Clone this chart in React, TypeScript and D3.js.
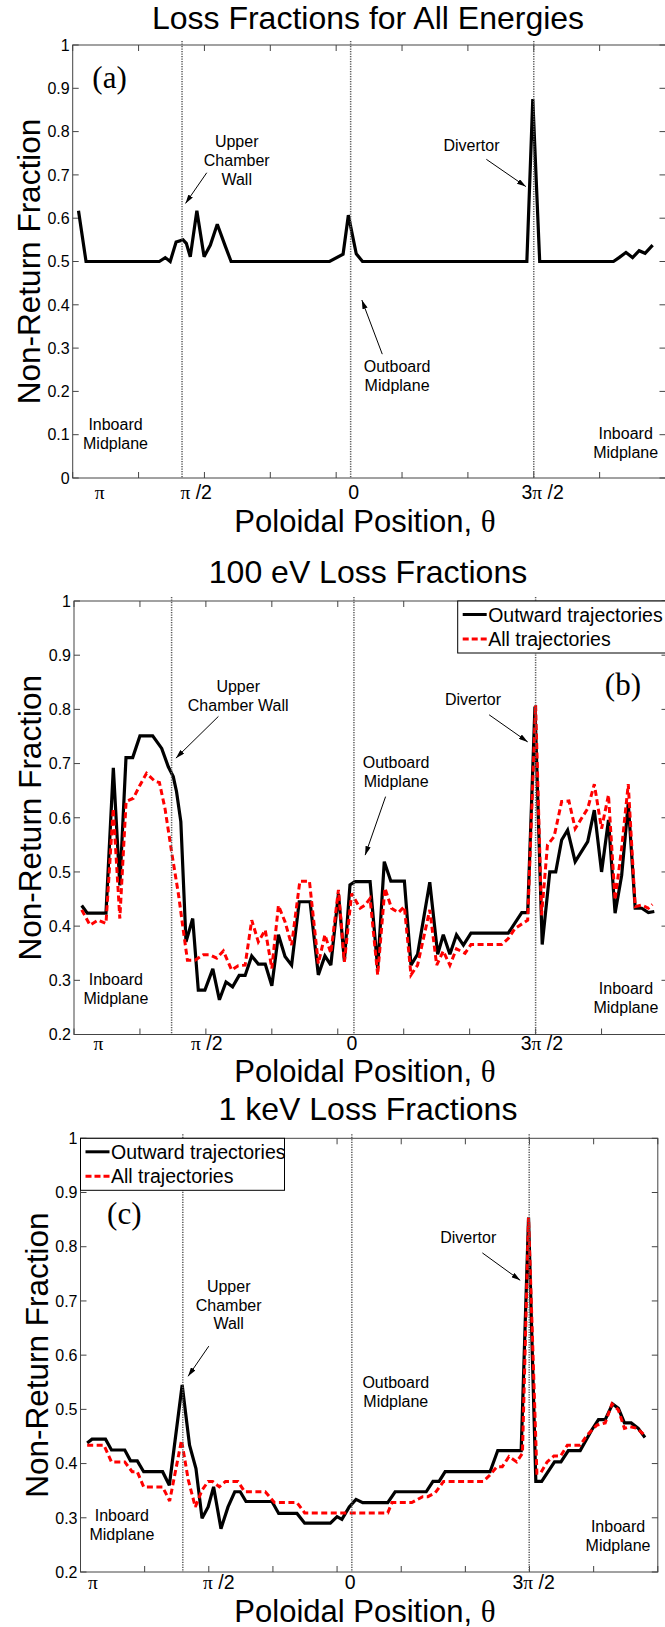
import React from 'react';
import * as d3 from 'd3';

type Pt = [number, number];

const W = 665;
const H = 1627;
const SANS = "'Liberation Sans', Arial, Helvetica, sans-serif";
const SERIF = "'Liberation Serif', 'Times New Roman', serif";

// Position along the wall is expressed in 0..180 units; ticks every 20.
const X_DOMAIN: [number, number] = [0, 180];
const X_TICKS = d3.range(0, 181, 20);
const X_LABELS = ['π', 'π /2', '0', '3π /2'];

// Panel (a): loss fraction summed over all energies
const allEnergies: Pt[] = [
  [1.76, 0.617], [4.05, 0.5], [26.3, 0.5], [28.1, 0.509], [29.6, 0.5], [31.4, 0.545],
  [33.5, 0.55], [34.5, 0.542], [35.7, 0.511], [37.7, 0.617], [39.9, 0.511], [41.8, 0.538],
  [43.9, 0.586], [46.3, 0.536], [48.1, 0.5], [78.0, 0.5], [82.1, 0.517], [83.7, 0.607],
  [86.1, 0.518], [88.0, 0.5], [137.9, 0.5], [139.7, 0.875], [141.8, 0.5], [164.2, 0.5],
  [165.9, 0.509], [168.0, 0.521], [170.0, 0.509], [172.0, 0.525], [173.8, 0.519], [176.1, 0.538],
];

// Panel (b): 100 eV
const outward100eV: Pt[] = [
  [2.33, 0.438], [4.04, 0.424], [9.7, 0.424], [11.93, 0.692], [13.9, 0.475], [15.77, 0.711],
  [17.8, 0.711], [20.0, 0.751], [23.86, 0.751], [26.6, 0.728], [28.6, 0.694], [30.1, 0.676],
  [31.1, 0.648], [32.4, 0.593], [33.97, 0.371], [36.0, 0.414], [37.7, 0.282], [39.7, 0.282],
  [42.1, 0.321], [44.1, 0.264], [46.1, 0.297], [48.1, 0.288], [50.1, 0.309], [51.9, 0.309],
  [53.9, 0.345], [55.9, 0.33], [58.0, 0.33], [60.0, 0.29], [62.0, 0.384], [64.0, 0.344],
  [66.0, 0.328], [68.3, 0.445], [71.6, 0.445], [74.1, 0.31], [76.1, 0.345], [77.9, 0.328],
  [80.2, 0.46], [82.0, 0.336], [83.7, 0.476], [85.2, 0.482], [89.8, 0.482], [92.1, 0.322],
  [94.1, 0.519], [96.1, 0.483], [100.2, 0.483], [102.2, 0.328], [104.2, 0.348], [106.2, 0.42],
  [107.9, 0.481], [110.3, 0.348], [112.0, 0.384], [114.0, 0.348], [116.0, 0.384], [118.1, 0.365],
  [120.4, 0.387], [131.7, 0.387], [135.8, 0.425], [137.6, 0.425], [139.8, 0.805], [142.0, 0.366],
  [144.3, 0.5], [146.1, 0.5], [147.9, 0.559], [149.7, 0.577], [152.0, 0.519], [155.8, 0.556],
  [157.8, 0.614], [160.0, 0.5], [162.1, 0.596], [164.1, 0.424], [166.1, 0.494], [168.1, 0.627],
  [170.2, 0.433], [172.2, 0.433], [174.2, 0.425], [176.0, 0.427],
];

const all100eV: Pt[] = [
  [2.33, 0.43], [4.85, 0.402], [7.3, 0.411], [9.7, 0.405], [11.9, 0.617], [13.9, 0.414],
  [15.8, 0.63], [18.0, 0.636], [20.0, 0.66], [22.0, 0.682], [24.6, 0.667], [25.9, 0.665],
  [27.6, 0.617], [29.6, 0.537], [31.7, 0.458], [33.2, 0.39], [34.4, 0.337], [36.7, 0.337],
  [39.2, 0.347], [41.2, 0.347], [43.3, 0.341], [45.3, 0.354], [47.8, 0.319], [49.8, 0.327],
  [51.9, 0.328], [53.9, 0.411], [55.9, 0.371], [58.0, 0.393], [60.0, 0.322], [62.0, 0.438],
  [64.0, 0.408], [66.0, 0.365], [68.5, 0.483], [71.4, 0.483], [74.1, 0.331], [76.1, 0.384],
  [77.9, 0.35], [80.2, 0.467], [82.0, 0.334], [84.2, 0.46], [86.8, 0.433], [88.3, 0.439],
  [89.8, 0.451], [92.1, 0.31], [94.3, 0.47], [96.3, 0.433], [98.4, 0.425], [100.2, 0.436],
  [102.2, 0.31], [104.2, 0.328], [107.9, 0.43], [110.0, 0.328], [112.0, 0.354], [114.0, 0.328],
  [116.0, 0.358], [118.6, 0.35], [120.4, 0.366], [129.7, 0.366], [131.7, 0.377], [133.8, 0.396],
  [137.6, 0.411], [140.0, 0.808], [141.8, 0.42], [143.6, 0.55], [145.6, 0.565], [147.9, 0.63],
  [150.1, 0.631], [152.0, 0.58], [155.8, 0.617], [157.8, 0.662], [160.0, 0.58], [162.1, 0.642],
  [164.1, 0.448], [166.1, 0.544], [168.1, 0.662], [170.2, 0.436], [172.2, 0.439], [174.2, 0.433],
  [175.4, 0.44],
];

// Panel (c): 1 keV
const outward1keV: Pt[] = [
  [2.08, 0.438], [3.6, 0.445], [7.8, 0.445], [9.66, 0.425], [13.8, 0.425], [15.6, 0.405],
  [17.7, 0.405], [19.7, 0.385], [25.6, 0.385], [27.7, 0.36], [31.7, 0.545], [34.0, 0.434],
  [36.0, 0.391], [37.9, 0.299], [39.8, 0.32], [41.5, 0.357], [43.8, 0.28], [46.0, 0.32],
  [48.1, 0.348], [49.8, 0.348], [51.6, 0.33], [59.7, 0.33], [61.8, 0.308], [67.5, 0.308],
  [69.9, 0.29], [77.9, 0.29], [80.0, 0.302], [81.5, 0.297], [83.8, 0.32], [85.9, 0.334],
  [88.0, 0.328], [95.8, 0.328], [98.1, 0.348], [107.8, 0.348], [109.9, 0.367], [111.8, 0.367],
  [113.7, 0.385], [127.7, 0.385], [130.1, 0.424], [137.4, 0.424], [139.7, 0.854], [141.97, 0.367],
  [143.8, 0.367], [147.8, 0.403], [149.8, 0.403], [152.1, 0.424], [155.8, 0.424], [159.4, 0.462],
  [161.5, 0.481], [163.6, 0.481], [165.9, 0.51], [167.7, 0.502], [169.6, 0.475], [171.7, 0.475],
  [173.9, 0.465], [176.0, 0.448],
];

const all1keV: Pt[] = [
  [2.08, 0.434], [7.3, 0.434], [9.66, 0.403], [13.8, 0.403], [16.1, 0.385], [17.7, 0.385],
  [19.7, 0.357], [25.6, 0.357], [27.8, 0.331], [31.5, 0.443], [33.6, 0.37], [35.8, 0.32],
  [37.9, 0.351], [39.8, 0.367], [41.2, 0.367], [43.3, 0.357], [45.2, 0.367], [49.1, 0.367],
  [51.2, 0.348], [57.6, 0.348], [60.5, 0.328], [67.5, 0.328], [69.9, 0.309], [95.8, 0.309],
  [97.1, 0.328], [103.3, 0.328], [106.7, 0.339], [108.3, 0.339], [110.6, 0.346], [113.2, 0.367],
  [125.6, 0.367], [127.7, 0.379], [129.8, 0.394], [131.5, 0.394], [133.6, 0.413], [136.0, 0.403],
  [137.8, 0.419], [139.7, 0.854], [142.3, 0.382], [143.4, 0.382], [145.5, 0.403], [147.6, 0.414],
  [149.7, 0.414], [151.8, 0.434], [155.8, 0.434], [157.9, 0.452], [161.0, 0.471], [163.6, 0.475],
  [165.7, 0.51], [167.7, 0.499], [169.6, 0.465], [171.4, 0.468], [173.5, 0.465], [175.9, 0.452],
];

// Vertical markers: upper chamber wall, outboard midplane, divertor
const markersA = [33.2, 84.4, 140.0];
const markersB = [29.6, 84.9, 140.0];
const markersC = [31.9, 84.6, 139.9];

// Where the π-style labels sit along each x axis
const labelPosA = [8.2, 37.5, 85.3, 142.7];
const labelPosB = [7.4, 40.3, 84.3, 141.9];
const labelPosC = [3.9, 43.1, 84.1, 141.3];

type Note = { u: number; v: number; lines: string[] };
type Arrow = { from: Pt; to: Pt };

const notesA: Note[] = [
  { u: 49.8, v: 0.764, lines: ['Upper', 'Chamber', 'Wall'] },
  { u: 121.1, v: 0.755, lines: ['Divertor'] },
  { u: 98.5, v: 0.245, lines: ['Outboard', 'Midplane'] },
  { u: 13.0, v: 0.111, lines: ['Inboard', 'Midplane'] },
  { u: 167.9, v: 0.0894, lines: ['Inboard', 'Midplane'] },
];
const arrowsA: Arrow[] = [
  { from: [40.7, 0.705], to: [34.25, 0.634] },
  { from: [125.6, 0.736], to: [137.6, 0.673] },
  { from: [94.0, 0.286], to: [87.8, 0.411] },
];

const notesB: Note[] = [
  { u: 49.8, v: 0.8315, lines: ['Upper', 'Chamber Wall'] },
  { u: 121.0, v: 0.808, lines: ['Divertor'] },
  { u: 97.7, v: 0.691, lines: ['Outboard', 'Midplane'] },
  { u: 12.7, v: 0.291, lines: ['Inboard', 'Midplane'] },
  { u: 167.4, v: 0.274, lines: ['Inboard', 'Midplane'] },
];
const arrowsB: Arrow[] = [
  { from: [43.8, 0.787], to: [30.9, 0.71] },
  { from: [125.9, 0.79], to: [137.6, 0.74] },
  { from: [94.5, 0.639], to: [88.3, 0.531] },
];

const notesC: Note[] = [
  { u: 46.2, v: 0.7167, lines: ['Upper', 'Chamber', 'Wall'] },
  { u: 120.9, v: 0.806, lines: ['Divertor'] },
  { u: 98.3, v: 0.5386, lines: ['Outboard', 'Midplane'] },
  { u: 12.9, v: 0.2946, lines: ['Inboard', 'Midplane'] },
  { u: 167.6, v: 0.2743, lines: ['Inboard', 'Midplane'] },
];
const arrowsC: Arrow[] = [
  { from: [40.0, 0.6166], to: [33.55, 0.561] },
  { from: [125.3, 0.7886], to: [137.1, 0.738] },
];

type PanelCfg = {
  title: string;
  tag: string;
  tagAt: Pt;
  left: number; right: number; top: number; bottom: number;
  yDomain: [number, number];
  titleY: number;
  xLabelDy: number;
  xTitleY: number;
  labelPos: number[];
  markers: number[];
  notes: Note[];
  arrows: Arrow[];
  outward: Pt[];
  all?: Pt[];
  legend?: { x: number; w: number };
};

const panels: PanelCfg[] = [
  {
    title: 'Loss Fractions for All Energies', tag: '(a)', tagAt: [5.96, 0.9007],
    left: 72.7, right: 665.5, top: 45, bottom: 478, yDomain: [0, 1],
    titleY: 28.5, xLabelDy: 21, xTitleY: 531.5,
    labelPos: labelPosA, markers: markersA, notes: notesA, arrows: arrowsA,
    outward: allEnergies,
  },
  {
    title: '100 eV Loss Fractions', tag: '(b)', tagAt: [161.0, 0.8265],
    left: 74, right: 667.5, top: 601, bottom: 1034.5, yDomain: [0.2, 1],
    titleY: 583, xLabelDy: 15.5, xTitleY: 1082,
    labelPos: labelPosB, markers: markersB, notes: notesB, arrows: arrowsB,
    outward: outward100eV, all: all100eV, legend: { x: 457.7, w: 216 },
  },
  {
    title: '1 keV Loss Fractions', tag: '(c)', tagAt: [8.3, 0.8415],
    left: 80.5, right: 657.8, top: 1138.3, bottom: 1572, yDomain: [0.2, 1],
    titleY: 1119.7, xLabelDy: 17, xTitleY: 1621.5,
    labelPos: labelPosC, markers: markersC, notes: notesC, arrows: arrowsC,
    outward: outward1keV, all: all1keV, legend: { x: 80.5, w: 204 },
  },
];

const fmtTick = (v: number) => String(Math.round(v * 10) / 10);

function PiLabel({ text, x, y }: { text: string; x: number; y: number }) {
  const parts = text.split('π');
  return (
    <text x={x} y={y} textAnchor="middle" fontFamily={SANS} fontSize={19.5} fill="#000">
      {parts.map((p, i) => (
        <React.Fragment key={i}>
          {i > 0 && <tspan fontFamily={SERIF}>π</tspan>}
          {p}
        </React.Fragment>
      ))}
    </text>
  );
}

function Panel({ cfg }: { cfg: PanelCfg }) {
  const x = d3.scaleLinear().domain(X_DOMAIN).range([cfg.left, cfg.right]);
  const y = d3.scaleLinear().domain(cfg.yDomain).range([cfg.bottom, cfg.top]);
  const line = d3.line<Pt>().x((d) => x(d[0])).y((d) => y(d[1]));
  const yTicks = d3.range(Math.round(cfg.yDomain[0] * 10), Math.round(cfg.yDomain[1] * 10) + 1).map((k) => k / 10);
  const tickLen = 6;
  const axisColor = '#444';
  const midX = 368;
  const midY = (cfg.top + cfg.bottom) / 2;

  return (
    <g>
      <text x={midX} y={cfg.titleY} textAnchor="middle" fontFamily={SANS} fontSize={32} fill="#000">
        {cfg.title}
      </text>

      {/* axis box */}
      <rect x={cfg.left} y={cfg.top} width={cfg.right - cfg.left} height={cfg.bottom - cfg.top}
        fill="#fff" stroke={axisColor} strokeWidth={1} />

      {/* ticks on all four sides, pointing inward */}
      {X_TICKS.map((t) => (
        <g key={`xt${t}`} stroke={axisColor} strokeWidth={1}>
          <line x1={x(t)} x2={x(t)} y1={cfg.bottom} y2={cfg.bottom - tickLen} />
          <line x1={x(t)} x2={x(t)} y1={cfg.top} y2={cfg.top + tickLen} />
        </g>
      ))}
      {yTicks.map((t) => (
        <g key={`yt${t}`}>
          <line x1={cfg.left} x2={cfg.left + tickLen} y1={y(t)} y2={y(t)} stroke={axisColor} strokeWidth={1} />
          <line x1={cfg.right} x2={cfg.right - tickLen} y1={y(t)} y2={y(t)} stroke={axisColor} strokeWidth={1} />
          <text x={cfg.left - 3} y={y(t)} dy="0.36em" textAnchor="end" fontFamily={SANS} fontSize={16} fill="#000">
            {fmtTick(t)}
          </text>
        </g>
      ))}

      {/* data */}
      <path d={line(cfg.outward) || ''} fill="none" stroke="#000" strokeWidth={3.2}
        strokeLinejoin="miter" strokeMiterlimit={3} />
      {cfg.all && (
        <path d={line(cfg.all) || ''} fill="none" stroke="#ff0000" strokeWidth={3}
          strokeDasharray="6 3.5" strokeLinejoin="miter" strokeMiterlimit={3} />
      )}

      {/* dotted location markers */}
      {cfg.markers.map((m) => (
        <line key={`m${m}`} x1={x(m)} x2={x(m)} y1={cfg.top - 4} y2={cfg.bottom}
          stroke="#5a5a5a" strokeWidth={1.5} strokeDasharray="1.3 1.2" />
      ))}

      {/* annotations */}
      {cfg.notes.map((n, i) => (
        <text key={`n${i}`} x={x(n.u)} y={y(n.v)} textAnchor="middle" fontFamily={SANS} fontSize={16} fill="#000">
          {n.lines.map((l, j) => (
            <tspan key={j} x={x(n.u)} dy={j === 0 ? 0 : 18.8}>{l}</tspan>
          ))}
        </text>
      ))}
      {cfg.arrows.map((a, i) => (
        <line key={`a${i}`} x1={x(a.from[0])} y1={y(a.from[1])} x2={x(a.to[0])} y2={y(a.to[1])}
          stroke="#000" strokeWidth={1} markerEnd="url(#arrowhead)" />
      ))}

      <text x={x(cfg.tagAt[0])} y={y(cfg.tagAt[1])} fontFamily={SERIF} fontSize={31} fill="#000">
        {cfg.tag}
      </text>

      {/* π-style position labels under the axis */}
      {cfg.labelPos.map((p, i) => (
        <PiLabel key={`pl${i}`} text={X_LABELS[i]} x={x(p)} y={cfg.bottom + cfg.xLabelDy} />
      ))}
      <text x={365} y={cfg.xTitleY} textAnchor="middle" fontFamily={SANS} fontSize={31} fill="#000">
        Poloidal Position, <tspan fontFamily={SERIF}>θ</tspan>
      </text>
      <text transform={`translate(${cfg.left - 33},${midY}) rotate(-90)`} textAnchor="middle"
        fontFamily={SANS} fontSize={31.5} fill="#000">
        Non-Return Fraction
      </text>

      {cfg.legend && (
        <g>
          <rect x={cfg.legend.x} y={cfg.top} width={cfg.legend.w} height={52} fill="#fff" stroke="#000" strokeWidth={1} />
          <line x1={cfg.legend.x + 5} x2={cfg.legend.x + 29} y1={cfg.top + 13.5} y2={cfg.top + 13.5}
            stroke="#000" strokeWidth={3} />
          <text x={cfg.legend.x + 30.5} y={cfg.top + 13.5} dy="0.36em" fontFamily={SANS} fontSize={19.5} fill="#000">
            Outward trajectories
          </text>
          <line x1={cfg.legend.x + 5} x2={cfg.legend.x + 29} y1={cfg.top + 38} y2={cfg.top + 38}
            stroke="#ff0000" strokeWidth={3} strokeDasharray="6 3" />
          <text x={cfg.legend.x + 30.5} y={cfg.top + 38} dy="0.36em" fontFamily={SANS} fontSize={19.5} fill="#000">
            All trajectories
          </text>
        </g>
      )}
    </g>
  );
}

export default function App() {
  return (
    <svg width={W} height={H} viewBox={`0 0 ${W} ${H}`}
      style={{ position: 'absolute', left: 0, top: 0, display: 'block', background: '#fff' }}>
      <defs>
        <marker id="arrowhead" viewBox="0 0 10 6" refX={10} refY={3} markerWidth={9} markerHeight={5.4}
          markerUnits="userSpaceOnUse" orient="auto">
          <path d="M0,0 L10,3 L0,6 z" fill="#000" />
        </marker>
      </defs>
      <rect width={W} height={H} fill="#fff" />
      {panels.map((p) => (
        <Panel key={p.tag} cfg={p} />
      ))}
    </svg>
  );
}
